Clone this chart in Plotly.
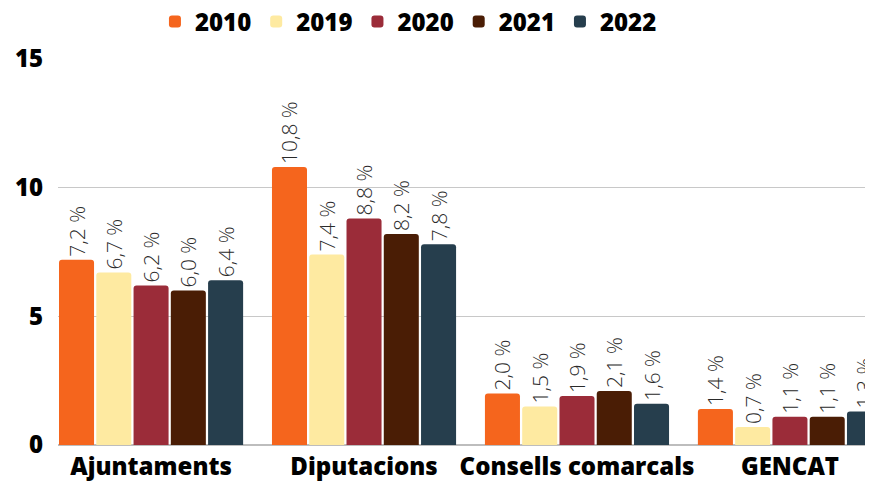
import plotly.graph_objects as go

categories = ["Ajuntaments", "Diputacions", "Consells comarcals", "GENCAT"]
years = ["2010", "2019", "2020", "2021", "2022"]
values = {
    "2010": [7.2, 10.8, 2.0, 1.4],
    "2019": [6.7, 7.4, 1.5, 0.7],
    "2020": [6.2, 8.8, 1.9, 1.1],
    "2021": [6.0, 8.2, 2.1, 1.1],
    "2022": [6.4, 7.8, 1.6, 1.3],
}
colors = {
    "2010": "#F5651D",
    "2019": "#FEEAA1",
    "2020": "#9B2C39",
    "2021": "#4A1D05",
    "2022": "#263E4D",
}
y_ticks = [0, 5, 10, 15]

fig = go.Figure()
for yr in years:
    fig.add_trace(go.Bar(
        x=categories,
        y=values[yr],
        name=yr,
        marker=dict(color=colors[yr], line=dict(width=0)),
        text=[("%.1f %%" % v).replace(".", ",") for v in values[yr]],
        textposition="outside",
        textangle=-90,
        constraintext="none",
        cliponaxis=False,
        textfont=dict(family="Open Sans", size=21, color="#2a2a2a", weight=300),
    ))

# page body has an 8px margin, so the figure is 8px smaller than the window
fig.update_layout(
    barmode="group",
    bargap=0.125,
    bargroupgap=0.06,
    barcornerradius=3,
    width=865,
    height=473,
    margin=dict(l=50, r=0, t=51, b=36, autoexpand=False),
    paper_bgcolor="white",
    plot_bgcolor="white",
    showlegend=True,
    legend=dict(
        orientation="h",
        x=0.43, xanchor="center",
        y=1.096, yanchor="middle",
        font=dict(family="Open Sans", size=24, color="black", weight=800),
        itemwidth=30,
        traceorder="normal",
    ),
    xaxis=dict(
        range=[-0.437, 3.39],
        showgrid=False,
        showline=False,
        ticks="",
        automargin=False,
        ticklabelstandoff=5,
        tickfont=dict(family="Open Sans", size=24, color="black", weight=800),
    ),
    yaxis=dict(
        range=[0, 15],
        tickvals=y_ticks,
        showgrid=True,
        gridcolor="#C8C8C8",
        gridwidth=1,
        zeroline=True,
        zerolinecolor="#BDBDBD",
        zerolinewidth=2,
        ticks="",
        automargin=False,
        ticklabelstandoff=14,
        tickfont=dict(family="Open Sans", size=24, color="black", weight=800),
    ),
)

fig.write_html("out.html")
